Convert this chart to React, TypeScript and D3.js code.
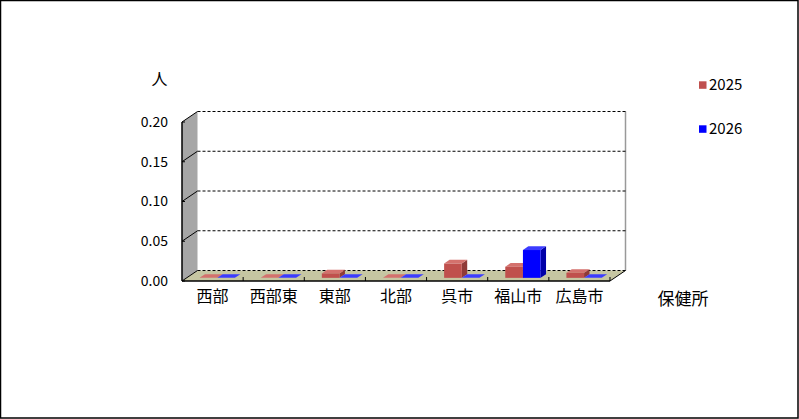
import * as d3 from "d3";

const categories = ["西部", "西部東", "東部", "北部", "呉市", "福山市", "広島市"];
const seriesNames = ["2025", "2026"];
const values2025 = [0, 0, 0.0055, 0, 0.018, 0.014, 0.0063];
const values2026 = [0, 0, 0, 0, 0, 0.035, 0];
const yTicks = [0, 0.05, 0.1, 0.15, 0.2];

const W = 799;
const H = 419;
// plot front plane
const left = 182;
const right = 610;
const bottom = 281;
const top = 122;
// depth offset of the back wall
const DX = 15.5;
const DY = -10.5;
// bar depth range (fraction of floor depth)
const F0 = 0.3;
const F1 = 0.65;

const colors = {
  "2025": { front: "#c0504d", top: "#d4716d", side: "#8f3a38" },
  "2026": { front: "#0000ff", top: "#3c3cff", side: "#0000a8" },
};

const font = "'Noto Sans CJK JP', 'Noto Sans', sans-serif";

export default function App() {
  const x = d3.scaleBand<string>().domain(categories).range([left, right]);
  const xs = d3
    .scaleBand<string>()
    .domain(seriesNames)
    .range([0, x.bandwidth()])
    .paddingOuter(0.73);
  const y = d3.scaleLinear().domain([0, 0.2]).range([bottom, top]);

  const series = [
    { name: "2025", values: values2025 },
    { name: "2026", values: values2026 },
  ];

  const pts = (p: [number, number][]) => p.map((q) => q.join(",")).join(" ");

  const bars: JSX.Element[] = [];
  categories.forEach((c, i) => {
    series.forEach((s) => {
      const col = colors[s.name as "2025"];
      const bw = xs.bandwidth();
      const x0 = (x(c) ?? 0) + (xs(s.name) ?? 0) + DX * F0;
      const yb = y(0) + DY * F0;
      const yt = y(s.values[i]) + DY * F0;
      const ox = DX * (F1 - F0);
      const oy = DY * (F1 - F0);
      bars.push(
        <g key={c + s.name}>
          <polygon
            points={pts([
              [x0 + bw, yb],
              [x0 + bw + ox, yb + oy],
              [x0 + bw + ox, yt + oy],
              [x0 + bw, yt],
            ])}
            fill={col.side}
          />
          <polygon
            points={pts([
              [x0, yt],
              [x0 + ox, yt + oy],
              [x0 + bw + ox, yt + oy],
              [x0 + bw, yt],
            ])}
            fill={col.top}
          />
          {yb - yt > 0.5 && (
            <rect x={x0} y={yt} width={bw} height={yb - yt} fill={col.front} />
          )}
        </g>
      );
    });
  });

  return (
    <svg
      width={W}
      height={H}
      style={{ position: "absolute", left: 0, top: 0, fontFamily: font }}
    >
      <rect x={0.5} y={0.5} width={W - 1.5} height={H - 1.5} fill="#fff" stroke="#000" strokeWidth={1.5} />

      {/* left wall */}
      <polygon
        points={pts([
          [left, y(0.2)],
          [left + DX, y(0.2) + DY],
          [left + DX, y(0) + DY],
          [left, y(0)],
        ])}
        fill="#a6a6a6"
      />
      {/* floor */}
      <polygon
        points={pts([
          [left, bottom],
          [left + DX, bottom + DY],
          [right + DX, bottom + DY],
          [right, bottom],
        ])}
        fill="#c6c6a2"
      />
      {/* back wall right edge */}
      <line
        x1={right + DX}
        x2={right + DX}
        y1={y(0.2) + DY}
        y2={y(0) + DY}
        stroke="#999"
        strokeWidth={1.5}
      />
      {/* gridlines: solid across the side wall, dashed along the back */}
      {yTicks.map((t) => (
        <g key={t}>
          <line x1={left} y1={y(t)} x2={left + DX} y2={y(t) + DY} stroke="#000" strokeWidth={1} />
          <line
            x1={left + DX}
            y1={y(t) + DY}
            x2={right + DX}
            y2={y(t) + DY}
            stroke="#000"
            strokeWidth={1}
            strokeDasharray="3,2"
          />
        </g>
      ))}
      {/* floor right edge */}
      <line x1={right} y1={bottom} x2={right + DX} y2={bottom + DY} stroke="#000" strokeWidth={1} />

      {bars}

      {/* axes */}
      <line x1={left} x2={left} y1={top} y2={bottom} stroke="#000" strokeWidth={1.5} />
      <line x1={left} x2={right} y1={bottom} y2={bottom} stroke="#000" strokeWidth={1.5} />
      {yTicks.map((t) => (
        <line key={"yt" + t} x1={left} x2={left + 3} y1={y(t)} y2={y(t)} stroke="#000" />
      ))}
      {categories.map((c) => (
        <line
          key={"xt" + c}
          x1={(x(c) ?? 0) + x.bandwidth()}
          x2={(x(c) ?? 0) + x.bandwidth()}
          y1={bottom}
          y2={bottom - 4}
          stroke="#000"
        />
      ))}

      {/* y tick labels */}
      {yTicks.map((t) => (
        <text
          key={"yl" + t}
          x={168}
          y={y(t) + 1}
          textAnchor="end"
          dominantBaseline="middle"
          fontSize={14}
        >
          {d3.format(".2f")(t)}
        </text>
      ))}
      {/* category labels */}
      {categories.map((c) => (
        <text
          key={"xl" + c}
          x={(x(c) ?? 0) + x.bandwidth() / 2}
          y={298}
          textAnchor="middle"
          dominantBaseline="middle"
          fontSize={16}
        >
          {c}
        </text>
      ))}

      <text x={159.5} y={81} textAnchor="middle" dominantBaseline="middle" fontSize={16}>
        人
      </text>
      <text x={683} y={300} textAnchor="middle" dominantBaseline="middle" fontSize={17}>
        保健所
      </text>

      {/* legend */}
      {seriesNames.map((s, i) => (
        <g key={"lg" + s} transform={`translate(699,${85 + i * 44})`}>
          <rect x={0} y={-3.7} width={7.5} height={7.5} fill={colors[s as "2025"].front} />
          <text x={10} y={1} dominantBaseline="middle" fontSize={15}>
            {s}
          </text>
        </g>
      ))}
    </svg>
  );
}
